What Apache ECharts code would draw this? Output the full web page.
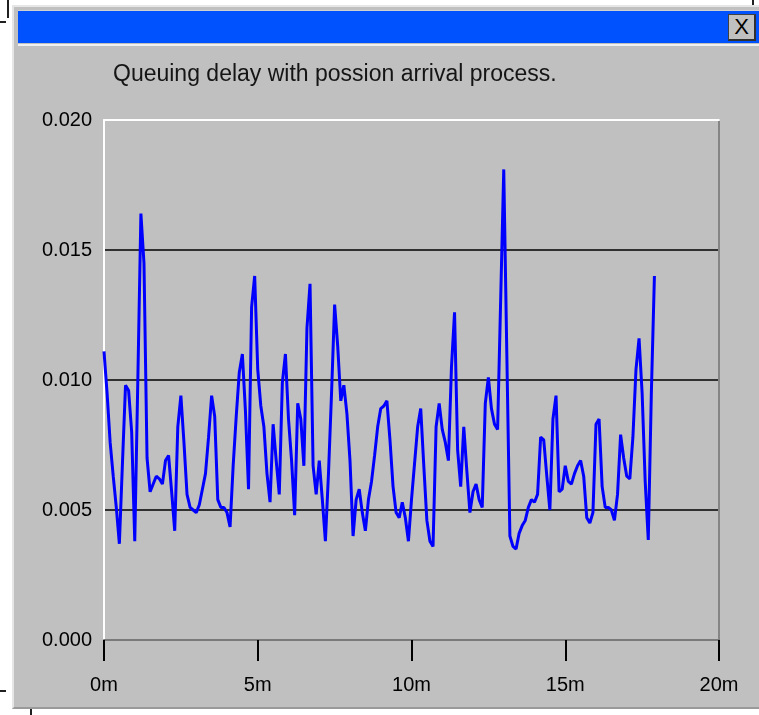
<!DOCTYPE html>
<html><head><meta charset="utf-8">
<script src="https://cdn.jsdelivr.net/npm/echarts@6/dist/echarts.min.js"></script>
<style>
html,body{margin:0;padding:0;background:#ffffff;width:759px;height:715px;overflow:hidden;position:relative;font-family:"Liberation Sans",Arial,sans-serif}
.ln{position:absolute;background:#202020}
#frame{position:absolute;left:12px;top:5px;width:747px;height:704px;background:#c0c0c0;border-left:2px solid #e6e6e6;border-top:2px solid #e6e6e6;border-bottom:2px solid #9a9a9a;box-sizing:border-box}
#titlebar{position:absolute;left:18px;top:10px;width:741px;height:33px;background:#0052ff;border-top:1px solid #d0d0d0;box-sizing:border-box}
#sep{position:absolute;left:18px;top:44px;width:741px;height:2px;background:#f0f0f0}
#close{position:absolute;left:728px;top:14px;width:28px;height:27px;background:#c0c0c0;border:1px solid #404040;border-right:2px solid #303030;border-bottom:2px solid #303030;box-sizing:border-box;font:22px "Liberation Sans",Arial,sans-serif;line-height:24px;text-align:center;color:#000}
#chart{position:absolute;left:0;top:0;width:759px;height:715px}
</style></head>
<body>
<div class="ln" style="left:7px;top:0;width:2px;height:18px"></div>
<div class="ln" style="left:0;top:21px;width:6px;height:2px"></div>
<div class="ln" style="left:752px;top:0;width:2px;height:6px"></div>
<div class="ln" style="left:0;top:690px;width:6px;height:2px"></div>
<div class="ln" style="left:30px;top:709px;width:2px;height:6px"></div>
<div id="frame"></div>
<div id="titlebar"></div>
<div id="sep"></div>
<div id="close">X</div>
<div id="chart"></div>
<script>
// sample times (minutes)
const times = [
 0.0,0.1,0.2,0.3,0.4,0.5,0.6,0.7,0.8,0.9,
 1.0,1.1,1.2,1.3,1.4,1.5,1.6,1.7,1.8,1.9,
 2.0,2.1,2.2,2.3,2.4,2.5,2.6,2.7,2.8,2.9,
 3.0,3.1,3.2,3.3,3.4,3.5,3.6,3.7,3.8,3.9,
 4.0,4.1,4.2,4.3,4.4,4.5,4.6,4.7,4.8,4.9,
 5.0,5.1,5.2,5.3,5.4,5.5,5.6,5.7,5.8,5.9,
 6.0,6.1,6.2,6.3,6.4,6.5,6.6,6.7,6.8,6.9,
 7.0,7.1,7.2,7.3,7.4,7.5,7.6,7.7,7.8,7.9,
 8.0,8.1,8.2,8.3,8.4,8.5,8.6,8.7,8.8,8.9,
 9.0,9.1,9.2,9.3,9.4,9.5,9.6,9.7,9.8,9.9,
 10.0,10.1,10.2,10.3,10.4,10.5,10.6,10.7,10.8,10.9,
 11.0,11.1,11.2,11.3,11.4,11.5,11.6,11.7,11.8,11.9,
 12.0,12.1,12.2,12.3,12.4,12.5,12.6,12.7,12.8,12.9,
 13.0,13.1,13.2,13.3,13.4,13.5,13.6,13.7,13.8,13.9,
 14.0,14.1,14.2,14.3,14.4,14.5,14.6,14.7,14.8,14.9,
 15.0,15.1,15.2,15.3,15.4,15.5,15.6,15.7,15.8,15.9,
 16.0,16.1,16.2,16.3,16.4,16.5,16.6,16.7,16.8,16.9,
 17.0,17.1,17.2,17.3,17.4,17.5,17.6,17.7,17.8,17.9
];
// queuing delay (seconds)
const delays = [
 0.0111,0.0095,0.0076,0.0063,0.0051,0.0037,0.0068,0.0098,0.0096,0.0080,
 0.0038,0.0100,0.0164,0.0145,0.0070,0.0057,0.0060,0.0063,0.0062,0.0060,
 0.0069,0.0071,0.0057,0.0042,0.0082,0.0094,0.0076,0.0056,0.0051,0.0050,
 0.0049,0.0052,0.0058,0.0064,0.0078,0.0094,0.0086,0.0054,0.0051,0.0051,
 0.0049,0.00435,0.0067,0.0086,0.0103,0.0110,0.0088,0.0058,0.0128,0.0140,
 0.0104,0.0090,0.0082,0.0064,0.0053,0.0083,0.0069,0.0056,0.0099,0.0110,
 0.0085,0.0069,0.0048,0.0091,0.0085,0.0067,0.0120,0.0137,0.0067,0.0056,
 0.0069,0.0054,0.0038,0.0064,0.0095,0.0129,0.0113,0.0092,0.0098,0.0087,
 0.0069,0.0040,0.0054,0.0058,0.0049,0.0042,0.0054,0.0061,0.0071,0.0082,
 0.0089,0.0090,0.0092,0.0077,0.0059,0.0049,0.0047,0.0053,0.0047,0.0038,
 0.0054,0.0068,0.0082,0.0089,0.0067,0.0046,0.0038,0.0036,0.0082,0.0091,
 0.0081,0.0076,0.0069,0.0105,0.0126,0.0073,0.0059,0.0082,0.0065,0.0049,
 0.0057,0.0060,0.0054,0.0051,0.0091,0.0101,0.0089,0.0083,0.0081,0.0131,
 0.0181,0.0110,0.0040,0.0036,0.0035,0.0041,0.0044,0.0046,0.0051,0.0054,
 0.0053,0.0056,0.0078,0.0077,0.0063,0.0050,0.0085,0.0094,0.0057,0.0058,
 0.0067,0.0061,0.0060,0.0064,0.0067,0.0069,0.0063,0.0047,0.0045,0.0049,
 0.0083,0.0085,0.0059,0.0051,0.0051,0.0050,0.0046,0.0056,0.0079,0.0070,
 0.0063,0.0062,0.0078,0.0104,0.0116,0.0095,0.0061,0.00385,0.0095,0.0140
];
const titleText = 'Queuing delay with possion arrival process.';
const xTickStep = 5, yTickStep = 0.005;
const FONT = '"Liberation Sans", Arial, sans-serif';

const chart = echarts.init(document.getElementById('chart'), null, {renderer:'canvas'});
chart.setOption({
  animation:false,
  backgroundColor:'transparent',
  title:{text:titleText, left:108, top:58,
    textStyle:{fontFamily:FONT, fontSize:23, fontWeight:'normal', color:'#151515'}},
  grid:{left:104, top:120, right:40, bottom:75, containLabel:false},
  xAxis:[
    {type:'value', min:0, max:20, interval:xTickStep,
     axisLine:{show:true, onZero:false, lineStyle:{color:'#7a7a7a', width:2}},
     axisTick:{show:true, length:21, lineStyle:{color:'#000', width:2}},
     axisLabel:{margin:35, formatter:function(v){return v+'m';}, fontFamily:FONT, fontSize:20, color:'#000'},
     splitLine:{show:false}},
    {type:'value', position:'top', min:0, max:20, interval:xTickStep,
     axisLine:{show:true, onZero:false, lineStyle:{color:'#ffffff', width:2}},
     axisTick:{show:false}, axisLabel:{show:false}, splitLine:{show:false}}
  ],
  yAxis:[
    {type:'value', min:0, max:0.02, interval:yTickStep,
     axisLine:{show:true, onZero:false, lineStyle:{color:'#ffffff', width:2}},
     axisTick:{show:false},
     axisLabel:{margin:12, formatter:function(v){return v.toFixed(3);}, fontFamily:FONT, fontSize:20, color:'#000'},
     splitLine:{show:true, showMinLine:false, showMaxLine:false, lineStyle:{color:'#303030', width:2}}},
    {type:'value', position:'right', min:0, max:0.02, interval:yTickStep,
     axisLine:{show:true, onZero:false, lineStyle:{color:'#858585', width:2}},
     axisTick:{show:false}, axisLabel:{show:false}, splitLine:{show:false}}
  ],
  series:[{
    type:'line', xAxisIndex:0, yAxisIndex:0,
    data: times.map(function(t,i){return [t, delays[i]];}),
    showSymbol:false, symbol:'none',
    lineStyle:{color:'#0000ff', width:3},
    itemStyle:{color:'#0000ff'}
  }]
});
</script>
</body></html>
